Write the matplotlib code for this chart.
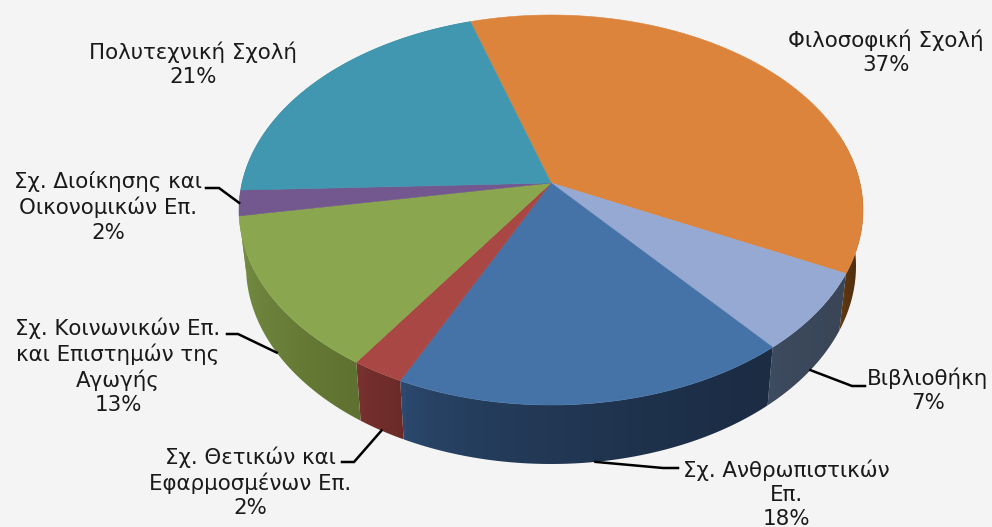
import numpy as np
import matplotlib
matplotlib.use('Agg')
import matplotlib.pyplot as plt
from matplotlib.patches import Polygon

schools = ['Φιλοσοφική Σχολή', 'Βιβλιοθήκη', 'Σχ. Ανθρωπιστικών\nΕπ.',
           'Σχ. Θετικών και\nΕφαρμοσμένων Επ.',
           'Σχ. Κοινωνικών Επ.\nκαι Επιστημών της\nΑγωγής',
           'Σχ. Διοίκησης και\nΟικονομικών Επ.', 'Πολυτεχνική Σχολή']
shares = [37.1, 6.6, 18.1, 2.4, 12.9, 2.1, 20.8]

top_colors = ['#dd843c', '#95a9d2', '#4573a7', '#a94744', '#8aa64f', '#72588f', '#4197b0']
# the purple slice side is green on purpose, no purple shows on the rim
side_left = ['#7a4716', '#3e4c62', '#2c4a70', '#7c3431', '#768f44', '#768f44', '#2c6a7c']
side_right = ['#4a2a0c', '#3a4557', '#1b2c43', '#6b2a28', '#5f7130', '#768f44', '#2c6a7c']

label_xy = [(886, 52), (928, 390), (786, 494), (250, 482), (118, 366), (108, 207), (193, 64)]
# elbow and end of the leader lines, None = no leader
leader_pts = [None, [(852, 386), (865, 386)], [(663, 468), (678, 468)],
              [(354, 462), (342, 462)], [(238, 334), (227, 334)],
              [(219, 188), (206, 188)], None]
leader_on_top = [False, False, False, False, False, True, False]

start_angle = 107.2
tilt = 0.138  # perspective shift of the pie centre
top_rim = (551, 210, 312, 195)
bottom_rim = (551, 266, 305, 198)


def project(angle, rim):
    # circle -> ellipse with perspective
    cx, cy, rx, ry = rim
    t = np.radians(angle)
    d = 1 + tilt * np.sin(t)
    x = np.cos(t) * np.sqrt(1 - tilt**2) / d
    y = (np.sin(t) + tilt) / d
    return cx + rx * x, cy - ry * y


fig = plt.figure(figsize=(9.92, 5.27), dpi=100, facecolor='#f4f4f4')
ax = fig.add_axes([0, 0, 1, 1])
ax.set_facecolor('#f4f4f4')
ax.axis('off')

sweep = np.array(shares) / sum(shares) * 360
ends = start_angle - np.cumsum(sweep)
starts = ends + sweep

# sides first, top faces cover what is hidden
for i in range(len(shares)):
    a0 = min(starts[i], 15)
    if a0 <= ends[i]:
        continue
    ang = np.linspace(a0, ends[i], 80)
    xt, yt = project(ang, top_rim)
    xb, yb = project(ang, bottom_rim)
    pts = np.vstack([np.c_[xt, yt], np.c_[xb, yb][::-1]])
    c0 = np.array(matplotlib.colors.to_rgb(side_left[i]))
    c1 = np.array(matplotlib.colors.to_rgb(side_right[i]))
    grad = (np.linspace(0, 1, 64)**0.55)[None, :, None] * (c1 - c0) + c0
    im = ax.imshow(grad, extent=(pts[:, 0].min(), pts[:, 0].max(), pts[:, 1].max(), pts[:, 1].min()),
                   aspect='auto', zorder=2)
    poly = Polygon(pts, closed=True, transform=ax.transData, fc='none', ec='none')
    ax.add_patch(poly)
    im.set_clip_path(poly)

apex = project(90, (551, 183, 0, 0))
for i in range(len(shares)):
    ang = np.linspace(starts[i], ends[i], 120)
    xt, yt = project(ang, top_rim)
    pts = np.vstack([[apex], np.c_[xt, yt]])
    ax.add_patch(Polygon(pts, closed=True, fc=top_colors[i], ec=top_colors[i], lw=0.4, zorder=3))

for i in range(len(shares)):
    ax.text(label_xy[i][0], label_xy[i][1], f'{schools[i]}\n{round(shares[i])}%',
            ha='center', va='center', ma='center', fontsize=15.4, color='#1a1a1a',
            linespacing=1.26, zorder=5)
    if leader_pts[i] is not None:
        mid = (starts[i] + ends[i]) / 2
        p = project(mid, top_rim if leader_on_top[i] else bottom_rim)
        line = [p] + leader_pts[i]
        ax.plot([q[0] for q in line], [q[1] for q in line], color='black', lw=1.8, zorder=4,
                solid_joinstyle='miter')

ax.set_xlim(0, 992)
ax.set_ylim(527, 0)
fig.savefig('out.png', dpi=100, facecolor=fig.get_facecolor())
